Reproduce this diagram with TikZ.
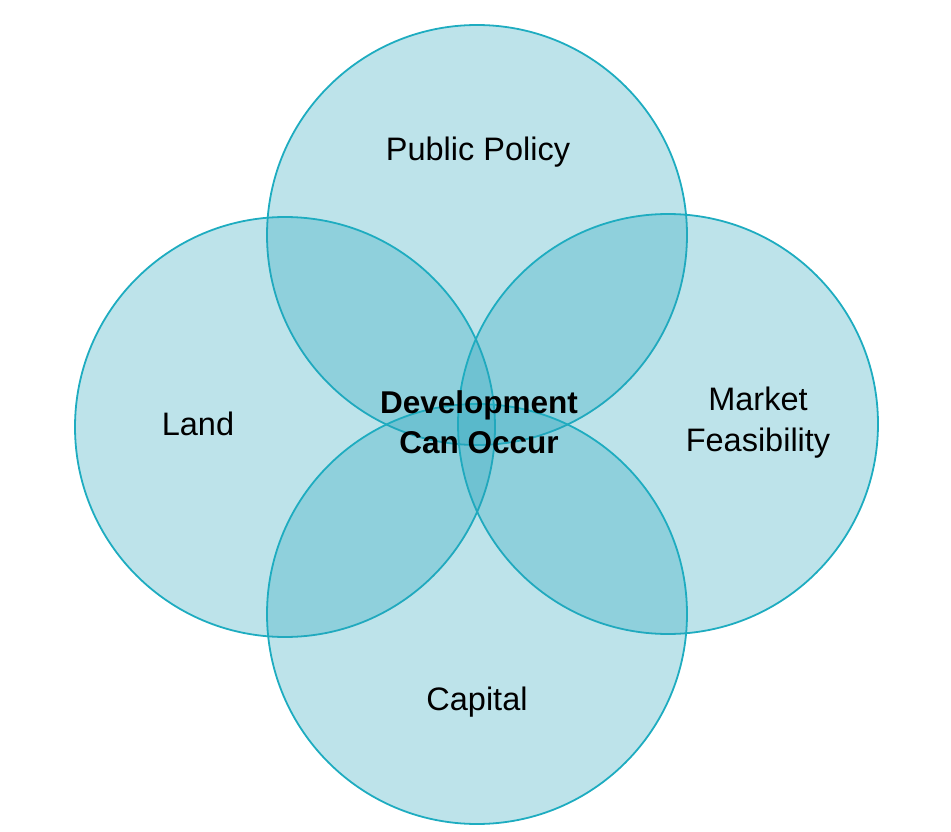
\documentclass[tikz,border=0pt]{standalone}
\usepackage{fontspec}
\setmainfont{Liberation Sans}
\definecolor{vfill}{RGB}{37,163,186}
\definecolor{vline}{RGB}{30,172,192}
\begin{document}
\begin{tikzpicture}[x=1pt,y=-1pt,
  venn/.style={circle,minimum size=420pt,inner sep=0pt,fill=vfill,fill opacity=0.3,draw=vline,draw opacity=1,line width=1.8pt},
  lbl/.style={font=\fontsize{32.5}{41}\selectfont,align=center,text=black}]
\useasboundingbox (0,0) rectangle (951,832);
\node[venn] (pp) at (477,235) {};
\node[venn] (land) at (285,427) {};
\node[venn] (mf) at (668,424) {};
\node[venn] (cap) at (477,614) {};
\node[lbl] (tpp) at (478,152) {Public Policy};
\node[lbl] (tland) at (198,424) {Land};
\node[lbl] (tmf) at (758,423) {Market\\Feasibility};
\node[lbl] (tcap) at (477,702) {Capital};
\node[lbl,font=\fontsize{31.5}{40}\selectfont\bfseries] (dev) at (479,422) {Development\\Can Occur};
\end{tikzpicture}
\end{document}
